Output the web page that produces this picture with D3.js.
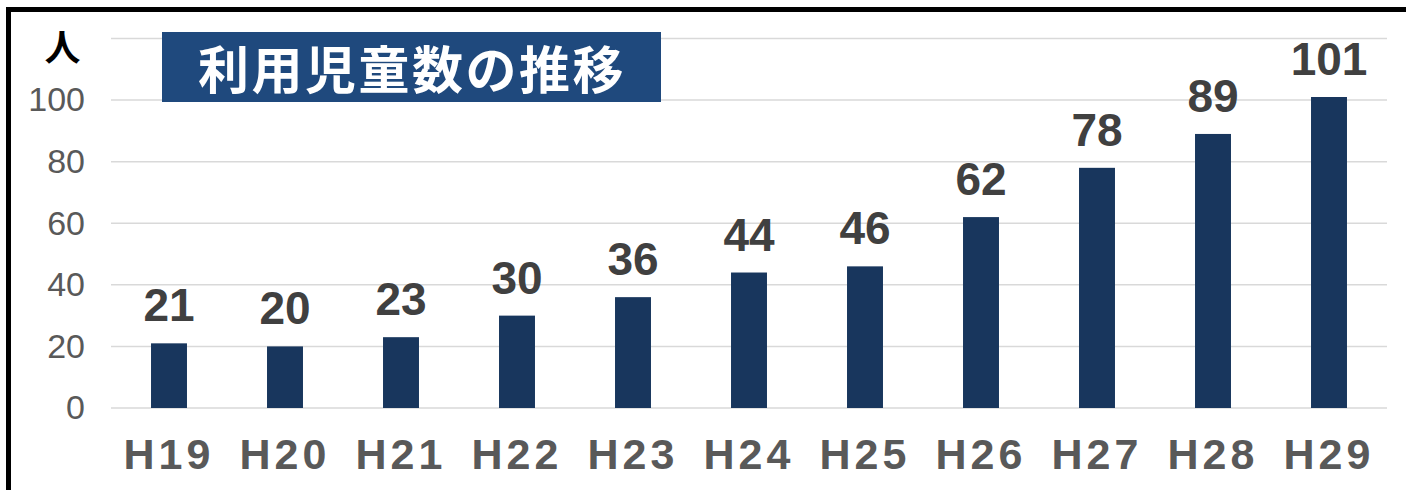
<!DOCTYPE html>
<html>
<head>
<meta charset="utf-8">
<script src="https://cdn.jsdelivr.net/npm/d3@7"></script>
<style>
  html, body { margin: 0; padding: 0; background: #fff; }
  svg { display: block; }
</style>
</head>
<body>
<svg id="chart" width="1406" height="490"></svg>
<script>
// data
const years = ["H19", "H20", "H21", "H22", "H23", "H24", "H25", "H26", "H27", "H28", "H29"];
const children = [21, 20, 23, 30, 36, 44, 46, 62, 78, 89, 101];
const yTicks = [0, 20, 40, 60, 80, 100];
const gridTicks = [0, 20, 40, 60, 80, 100, 120];
const titleText = "利用児童数の推移";
const unitText = "人";

const svg = d3.select("#chart");

const x = d3.scaleBand()
    .domain(years)
    .range([111, 1387])
    .paddingInner(0.69)
    .paddingOuter(0.345);

const y = d3.scaleLinear()
    .domain([0, 120])
    .range([408, 38.5]);

// outer frame (runs off the right and bottom edge)
svg.append("rect")
    .attr("x", 8.5)
    .attr("y", 9.5)
    .attr("width", 1420)
    .attr("height", 500)
    .attr("fill", "none")
    .attr("stroke", "#000")
    .attr("stroke-width", 5);

// gridlines
svg.append("g")
    .selectAll("line")
    .data(gridTicks)
    .enter()
    .append("line")
    .attr("x1", 111)
    .attr("x2", 1387)
    .attr("y1", d => y(d))
    .attr("y2", d => y(d))
    .attr("stroke", "#d9d9d9")
    .attr("stroke-width", 1.5);

// y axis labels
const yAxis = d3.axisLeft(y)
    .tickValues(yTicks)
    .tickSize(0)
    .tickPadding(26);

const gy = svg.append("g")
    .attr("transform", "translate(111,0)")
    .call(yAxis);
gy.select(".domain").remove();
gy.selectAll("text")
    .attr("fill", "#595959")
    .style("font-family", "'Liberation Sans', Arial, sans-serif")
    .style("font-size", "34px");

// x axis labels
const xAxis = d3.axisBottom(x)
    .tickSize(0)
    .tickPadding(0);

const gx = svg.append("g")
    .attr("transform", "translate(0,408)")
    .call(xAxis);
gx.select(".domain").remove();
gx.selectAll("text")
    .attr("dy", null)
    .attr("y", 61)
    .attr("fill", "#595959")
    .style("font-family", "'Liberation Sans', Arial, sans-serif")
    .style("font-size", "43px")
    .style("font-weight", "bold")
    .style("letter-spacing", "4px");

// bars
svg.selectAll("rect.bar")
    .data(children)
    .enter()
    .append("rect")
    .attr("class", "bar")
    .attr("x", (d, i) => x(years[i]))
    .attr("y", d => y(d))
    .attr("width", x.bandwidth())
    .attr("height", d => y(0) - y(d))
    .attr("fill", "#18365d");

// value labels
svg.selectAll("text.val")
    .data(children)
    .enter()
    .append("text")
    .attr("class", "val")
    .attr("x", (d, i) => x(years[i]) + x.bandwidth() / 2)
    .attr("y", d => y(d) - 22)
    .attr("text-anchor", "middle")
    .attr("fill", "#404040")
    .style("font-family", "'Liberation Sans', Arial, sans-serif")
    .style("font-size", "46px")
    .style("font-weight", "bold")
    .text(d => d);

// unit
svg.append("text")
    .attr("x", 62.5)
    .attr("y", 61)
    .attr("text-anchor", "middle")
    .attr("fill", "#000")
    .style("font-family", "'Noto Sans CJK JP', sans-serif")
    .style("font-size", "36px")
    .style("font-weight", "bold")
    .text(unitText);

// title box
svg.append("rect")
    .attr("x", 162)
    .attr("y", 32)
    .attr("width", 499)
    .attr("height", 70)
    .attr("fill", "#1f497d");

svg.append("text")
    .attr("x", 412)
    .attr("y", 89)
    .attr("text-anchor", "middle")
    .attr("fill", "#fff")
    .style("font-family", "'Noto Sans CJK JP', sans-serif")
    .style("font-size", "51px")
    .style("font-weight", "bold")
    .style("letter-spacing", "2.5px")
    .text(titleText);
</script>
</body>
</html>
